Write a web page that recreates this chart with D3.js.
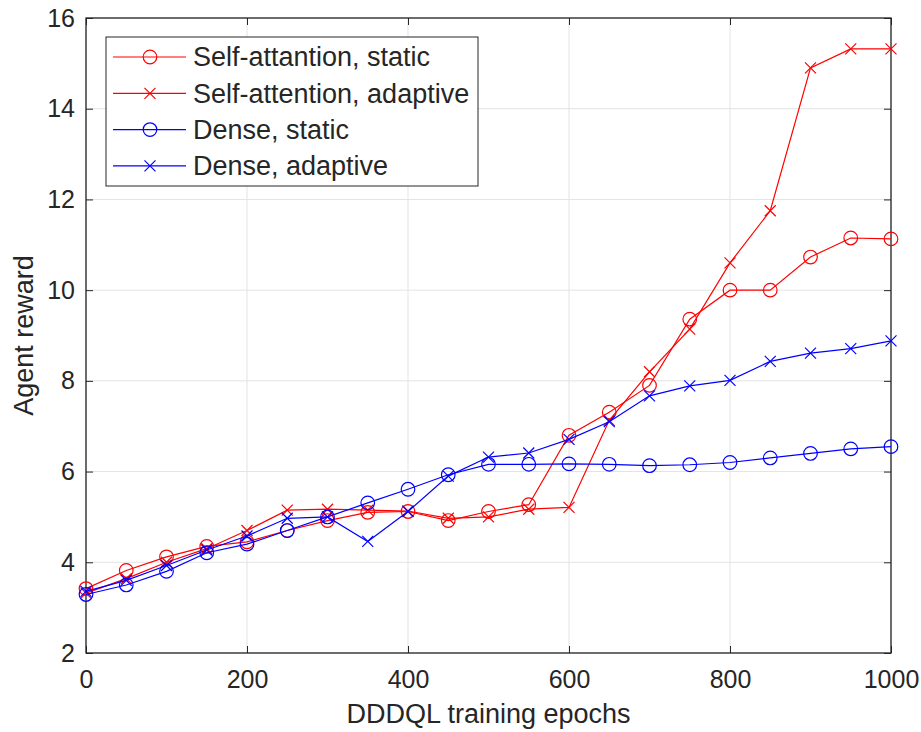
<!DOCTYPE html>
<html>
<head>
<meta charset="utf-8">
<script src="https://cdn.jsdelivr.net/npm/d3@7"></script>
<style>
  body { margin: 0; background: #fff; }
  text { font-family: "Liberation Sans", Arial, sans-serif; fill: #262626; }
</style>
</head>
<body>
<script>
// data
const epochs = [0, 50, 100, 150, 200, 250, 300, 350, 400, 450, 500, 550, 600, 650, 700, 750, 800, 850, 900, 950, 1000];
const saStatic = [3.42, 3.82, 4.12, 4.35, 4.45, 4.7, 4.92, 5.1, 5.12, 4.92, 5.12, 5.27, 6.8, 7.31, 7.9, 9.36, 10.0, 10.0, 10.73, 11.15, 11.13];
const saAdaptive = [3.32, 3.64, 4.0, 4.3, 4.7, 5.15, 5.17, 5.15, 5.13, 4.97, 5.0, 5.17, 5.21, 7.13, 8.2, 9.14, 10.6, 11.75, 14.9, 15.32, 15.32];
const denseStatic = [3.29, 3.5, 3.8, 4.21, 4.4, 4.7, 5.0, 5.31, 5.61, 5.93, 6.16, 6.16, 6.17, 6.16, 6.13, 6.15, 6.2, 6.3, 6.4, 6.5, 6.55];
const denseAdaptive = [3.36, 3.6, 3.93, 4.27, 4.58, 4.97, 5.0, 4.46, 5.12, 5.9, 6.32, 6.41, 6.71, 7.1, 7.67, 7.89, 8.01, 8.43, 8.61, 8.71, 8.88];
const seriesNames = ['Self-attantion, static', 'Self-attention, adaptive', 'Dense, static', 'Dense, adaptive'];
const xTicks = [0, 200, 400, 600, 800, 1000];
const yTicks = [2, 4, 6, 8, 10, 12, 14, 16];

const width = 921, height = 732;
const margin = {left: 86, top: 18, right: 30, bottom: 79};

const svg = d3.select('body').append('svg')
  .attr('width', width)
  .attr('height', height);

const x = d3.scaleLinear().domain([0, 1000]).range([margin.left, width - margin.right]);
const y = d3.scaleLinear().domain([2, 16]).range([height - margin.bottom, margin.top]);

// grid
svg.append('g').selectAll('line').data(xTicks).enter().append('line')
  .attr('x1', d => x(d)).attr('x2', d => x(d))
  .attr('y1', y(2)).attr('y2', y(16))
  .attr('stroke', '#e3e3e3').attr('stroke-width', 1);
svg.append('g').selectAll('line').data(yTicks).enter().append('line')
  .attr('x1', x(0)).attr('x2', x(1000))
  .attr('y1', d => y(d)).attr('y2', d => y(d))
  .attr('stroke', '#e3e3e3').attr('stroke-width', 1);

// axes
function styleAxis(g) {
  g.select('.domain').remove();
  g.selectAll('line').attr('stroke', '#262626').attr('stroke-width', 1);
  g.selectAll('text').attr('font-size', '25px').attr('fill', '#262626')
    .attr('font-family', '"Liberation Sans", Arial, sans-serif');
}
svg.append('g').attr('transform', `translate(0,${y(2)})`)
  .call(d3.axisBottom(x).tickValues(xTicks).tickSize(-7).tickPadding(17).tickFormat(d3.format('d')))
  .call(styleAxis);
svg.append('g').attr('transform', `translate(0,${y(16)})`)
  .call(d3.axisTop(x).tickValues(xTicks).tickSize(-7).tickFormat(''))
  .call(styleAxis);
svg.append('g').attr('transform', `translate(${x(0)},0)`)
  .call(d3.axisLeft(y).tickValues(yTicks).tickSize(-7).tickPadding(11))
  .call(styleAxis);
svg.append('g').attr('transform', `translate(${x(1000)},0)`)
  .call(d3.axisRight(y).tickValues(yTicks).tickSize(-7).tickFormat(''))
  .call(styleAxis);

svg.append('rect')
  .attr('x', x(0)).attr('y', y(16))
  .attr('width', x(1000) - x(0)).attr('height', y(2) - y(16))
  .attr('fill', 'none').attr('stroke', '#262626').attr('stroke-width', 1.3);

// axis labels
svg.append('text')
  .attr('x', (x(0) + x(1000)) / 2).attr('y', 723)
  .attr('text-anchor', 'middle').attr('font-size', '27px')
  .text('DDDQL training epochs');
svg.append('text')
  .attr('transform', `translate(33,${(y(2) + y(16)) / 2}) rotate(-90)`)
  .attr('text-anchor', 'middle').attr('font-size', '27px')
  .text('Agent reward');

// series
const series = [
  {values: saStatic, color: '#ff0000', marker: 'circle'},
  {values: saAdaptive, color: '#ff0000', marker: 'cross'},
  {values: denseStatic, color: '#0000ff', marker: 'circle'},
  {values: denseAdaptive, color: '#0000ff', marker: 'cross'}
];

const line = d3.line().x(d => x(d[0])).y(d => y(d[1]));

function drawMarker(g, cx, cy, type, color) {
  if (type === 'circle') {
    g.append('circle').attr('cx', cx).attr('cy', cy).attr('r', 6.8)
      .attr('fill', 'none').attr('stroke', color).attr('stroke-width', 1.2);
  } else {
    const s = 5.5;
    g.append('path')
      .attr('d', `M${cx - s},${cy - s}L${cx + s},${cy + s}M${cx - s},${cy + s}L${cx + s},${cy - s}`)
      .attr('stroke', color).attr('stroke-width', 1.2).attr('fill', 'none');
  }
}

series.forEach(s => {
  const pts = epochs.map((e, i) => [e, s.values[i]]);
  const g = svg.append('g');
  g.append('path').datum(pts)
    .attr('d', line)
    .attr('fill', 'none').attr('stroke', s.color).attr('stroke-width', 1.2);
  pts.forEach(p => drawMarker(g, x(p[0]), y(p[1]), s.marker, s.color));
});

// legend
const legend = svg.append('g');
legend.append('rect')
  .attr('x', 106).attr('y', 37).attr('width', 372).attr('height', 149)
  .attr('fill', '#fff').attr('stroke', '#262626').attr('stroke-width', 1);
series.forEach((s, i) => {
  const cy = 57 + i * 36.3;
  legend.append('line')
    .attr('x1', 113).attr('x2', 186).attr('y1', cy).attr('y2', cy)
    .attr('stroke', s.color).attr('stroke-width', 1.2);
  drawMarker(legend, 150, cy, s.marker, s.color);
  legend.append('text')
    .attr('x', 193).attr('y', cy).attr('dy', '0.35em')
    .attr('font-size', '27px').attr('fill', '#000')
    .text(seriesNames[i]);
});
</script>
</body>
</html>
